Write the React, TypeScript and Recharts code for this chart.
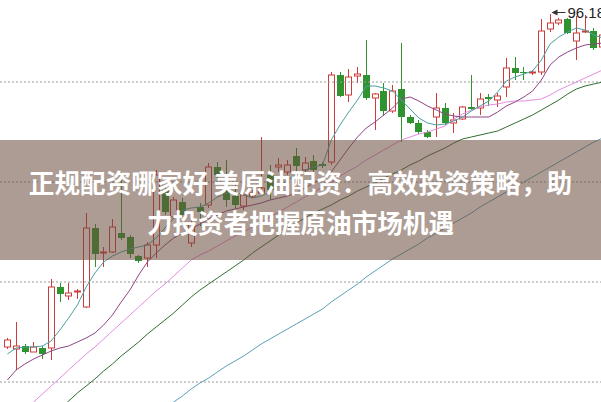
import React from 'react';
import { ComposedChart, Bar, Line, XAxis, YAxis, ReferenceLine } from 'recharts';

// daily candles (price units)
const openPrices = [
  92.85, 92.83, 92.86, 92.80, 92.84, 92.84, 93.45, 93.36, 93.40, 93.25,
  94.04, 93.79, 93.80, 93.99, 93.95, 93.76, 93.74, 93.87, 94.42, 94.15,
  94.30, 93.89, 94.25, 94.27, 94.65, 94.42, 94.36, 94.26, 94.36, 94.39,
  94.57, 94.65, 94.60, 94.76, 94.62, 94.71, 94.68, 94.70, 95.57, 95.37,
  95.56, 95.57, 95.34, 95.41, 95.21, 95.43, 95.15, 95.09, 95.00, 95.15,
  95.24, 95.09, 95.13, 95.25, 95.24, 95.35, 95.32, 95.45, 95.64, 95.60,
  95.59, 95.60, 96.03, 96.09, 96.13, 95.91, 96.00, 96.01, 95.85,
];
const closePrices = [
  92.92, 92.86, 92.80, 92.85, 92.78, 93.45, 93.38, 93.39, 93.41, 94.04,
  93.78, 93.80, 94.05, 93.94, 93.78, 93.71, 93.87, 94.57, 94.20, 94.32,
  94.17, 94.09, 94.20, 94.65, 94.57, 94.32, 94.27, 94.37, 94.39, 94.44,
  94.42, 94.67, 94.67, 94.66, 94.69, 94.62, 94.66, 95.57, 95.36, 95.55,
  95.58, 95.34, 95.38, 95.21, 95.41, 95.15, 95.09, 95.00, 94.95, 95.24,
  95.09, 95.12, 95.25, 95.23, 95.33, 95.33, 95.36, 95.64, 95.59, 95.59,
  95.60, 96.01, 96.09, 96.12, 95.99, 95.99, 96.01, 95.84, 95.97,
];
const highPrices = [
  92.94, 93.10, 92.88, 92.90, 92.86, 93.53, 93.49, 93.49, 93.43, 94.19,
  94.08, 93.85, 94.13, 94.60, 93.97, 93.77, 93.90, 94.62, 94.47, 94.35,
  94.34, 94.14, 94.29, 94.69, 94.70, 94.72, 94.47, 94.41, 94.42, 94.95,
  94.67, 94.74, 94.72, 94.84, 94.75, 94.77, 94.70, 95.60, 95.60, 95.63,
  95.65, 95.92, 95.39, 95.49, 95.47, 95.89, 95.17, 95.12, 95.02, 95.39,
  95.29, 95.19, 95.26, 95.57, 95.39, 95.38, 95.39, 95.74, 95.75, 95.65,
  95.62, 96.13, 96.18, 96.14, 96.14, 96.16, 96.17, 96.04, 96.02,
];
const lowPrices = [
  92.83, 92.62, 92.78, 92.80, 92.73, 92.72, 93.30, 93.32, 93.33, 93.24,
  93.65, 93.65, 93.79, 93.92, 93.74, 93.69, 93.65, 93.74, 94.17, 94.13,
  94.14, 93.85, 94.06, 94.24, 94.52, 94.25, 94.24, 94.22, 94.34, 94.37,
  94.32, 94.60, 94.57, 94.60, 94.59, 94.60, 94.64, 94.67, 95.35, 95.30,
  95.49, 95.32, 95.02, 95.16, 95.19, 94.90, 95.08, 94.98, 94.94, 94.95,
  95.07, 94.99, 95.12, 95.22, 95.17, 95.26, 95.25, 95.35, 95.52, 95.52,
  95.57, 95.57, 96.00, 96.07, 95.98, 95.72, 95.99, 95.82, 95.82,
];

// moving averages
const ma5 = [
  92.78, 92.84, 92.85, 92.85, 92.86, 92.91, 93.02, 93.14, 93.27, 93.45,
  93.59, 93.70, 93.76, 93.80, 93.83, 93.85, 93.87, 93.94, 94.04, 94.14,
  94.22, 94.24, 94.25, 94.29, 94.35, 94.39, 94.40, 94.37, 94.34, 94.36,
  94.40, 94.46, 94.52, 94.57, 94.62, 94.65, 94.67, 94.92, 95.07, 95.20,
  95.32, 95.46, 95.46, 95.44, 95.41, 95.32, 95.23, 95.14, 95.09, 95.07,
  95.08, 95.11, 95.15, 95.21, 95.26, 95.31, 95.40, 95.51, 95.55, 95.58,
  95.61, 95.72, 95.88, 95.95, 96.00, 96.04, 96.02, 95.97, 95.94,
];
const ma10 = [
  92.52, 92.62, 92.68, 92.73, 92.77, 92.81, 92.84, 92.86, 92.90, 92.94,
  92.99, 93.07, 93.17, 93.30, 93.42, 93.57, 93.70, 93.79, 93.87, 93.94,
  93.99, 94.03, 94.08, 94.13, 94.17, 94.21, 94.23, 94.25, 94.27, 94.29,
  94.32, 94.34, 94.36, 94.39, 94.44, 94.49, 94.54, 94.60, 94.72, 94.84,
  94.95, 95.04, 95.10, 95.17, 95.24, 95.33, 95.35, 95.31, 95.26, 95.22,
  95.18, 95.16, 95.15, 95.15, 95.15, 95.15, 95.20, 95.26, 95.30, 95.35,
  95.41, 95.52, 95.67, 95.75, 95.80, 95.84, 95.87, 95.88, 95.89,
];
const ma20 = [
  92.07, 92.14, 92.22, 92.30, 92.38, 92.46, 92.54, 92.62, 92.70, 92.78,
  92.85, 92.93, 93.01, 93.09, 93.17, 93.25, 93.33, 93.41, 93.48, 93.56,
  93.64, 93.72, 93.77, 93.81, 93.86, 93.91, 93.96, 94.00, 94.05, 94.10,
  94.15, 94.20, 94.25, 94.30, 94.35, 94.40, 94.45, 94.50, 94.56, 94.61,
  94.66, 94.72, 94.77, 94.82, 94.87, 94.92, 94.95, 94.98, 95.00, 95.03,
  95.06, 95.13, 95.18, 95.22, 95.25, 95.27, 95.28, 95.30, 95.31, 95.31,
  95.32, 95.33, 95.37, 95.42, 95.46, 95.50, 95.54, 95.58, 95.62,
];
const ma60 = [
  91.78, 91.85, 91.93, 92.00, 92.08, 92.16, 92.23, 92.31, 92.39, 92.46,
  92.53, 92.61, 92.68, 92.76, 92.83, 92.90, 92.98, 93.05, 93.12, 93.19,
  93.27, 93.35, 93.42, 93.48, 93.54, 93.60, 93.66, 93.72, 93.79, 93.85,
  93.91, 93.97, 94.03, 94.09, 94.14, 94.19, 94.23, 94.27, 94.32, 94.36,
  94.41, 94.45, 94.49, 94.54, 94.58, 94.62, 94.67, 94.71, 94.76, 94.80,
  94.84, 94.89, 94.93, 94.95, 94.97, 94.99, 95.01, 95.05, 95.09, 95.13,
  95.17, 95.22, 95.27, 95.32, 95.38, 95.43, 95.46, 95.48, 95.50,
];
const ma120 = [
  null, null, null, null, null, null, null, null, null, null,
  null, null, null, null, 91.99, 92.05, 92.12, 92.18, 92.24, 92.30,
  92.36, 92.43, 92.49, 92.54, 92.60, 92.66, 92.71, 92.76, 92.82, 92.88,
  92.93, 92.98, 93.03, 93.08, 93.13, 93.18, 93.23, 93.30, 93.36, 93.42,
  93.48, 93.55, 93.61, 93.67, 93.73, 93.78, 93.83, 93.88, 93.94, 93.99,
  94.04, 94.09, 94.14, 94.19, 94.25, 94.30, 94.35, 94.40, 94.45, 94.50,
  94.55, 94.60, 94.65, 94.70, 94.75, 94.80, 94.85, 94.90, 94.94,
];

const gridLevels = [92.5, 93.5, 94.5, 95.5];
const titleLines = ['正规配资哪家好 美原油配资：高效投资策略，助', '力投资者把握原油市场机遇'];

const RED = '#cf3b3b';
const GREEN = '#2f9430';

const data = openPrices.map((o, i) => ({
  k: i,
  open: o,
  close: closePrices[i],
  high: highPrices[i],
  low: lowPrices[i],
  range: [lowPrices[i], highPrices[i]],
  ma5: ma5[i],
  ma10: ma10[i],
  ma20: ma20[i],
  ma60: ma60[i],
  ma120: ma120[i],
}));

const peakIndex = highPrices.indexOf(Math.max(...highPrices));

function Candle(props: any) {
  const { x, y, width, height, payload } = props;
  if (!payload) return null;
  const top = Math.min(y, y + height);
  const bottom = Math.max(y, y + height);
  const span = payload.high - payload.low || 1;
  const toY = (v: number) => top + ((payload.high - v) / span) * (bottom - top);
  const cx = Math.round(x + width / 2) + 0.5;
  const up = payload.close >= payload.open;
  const color = up ? RED : GREEN;
  const bTop = toY(Math.max(payload.open, payload.close));
  let bBot = toY(Math.min(payload.open, payload.close));
  if (bBot - bTop < 1) bBot = bTop + 1;
  const half = 3;

  let peak = null;
  if (payload.k === peakIndex) {
    const py = Math.round(top) - 1.5;
    peak = (
      <g>
        <path d={`M${cx + 1},${py} l6,-3 v6 z`} fill="#333" />
        <line x1={cx + 6} y1={py} x2={cx + 15} y2={py} stroke="#333" strokeWidth={1} />
        <text x={cx + 17} y={py + 5} fontSize={15} fill="#222" fontFamily="'Liberation Sans', Arial, sans-serif">
          {payload.high.toFixed(2)}
        </text>
      </g>
    );
  }

  if (up) {
    return (
      <g>
        <line x1={cx} y1={top} x2={cx} y2={bTop} stroke={color} strokeWidth={1} />
        <line x1={cx} y1={bBot} x2={cx} y2={bottom} stroke={color} strokeWidth={1} />
        <rect x={cx - half} y={bTop} width={half * 2} height={bBot - bTop} fill="#fff" stroke={color} strokeWidth={1} />
        {peak}
      </g>
    );
  }
  return (
    <g>
      <line x1={cx} y1={top} x2={cx} y2={bottom} stroke={color} strokeWidth={1} />
      <rect x={cx - half - 0.5} y={bTop} width={half * 2 + 1} height={bBot - bTop} fill={color} />
      {peak}
    </g>
  );
}

export default function App() {
  return (
    <div style={{ position: 'fixed', left: 0, top: 0, width: 601, height: 402, overflow: 'hidden', background: '#fff' }}>
      <ComposedChart width={607} height={402} data={data} margin={{ top: 0, right: 0, bottom: 0, left: 0 }}>
        <XAxis dataKey="k" hide padding={{ left: 3, right: 0 }} />
        <YAxis hide type="number" domain={[92.3, 96.32]} allowDataOverflow />
        {gridLevels.map((g) => (
          <ReferenceLine key={g} y={g} stroke="#9a9a9a" strokeDasharray="2 2" />
        ))}
        <Bar dataKey="range" barSize={6} shape={<Candle />} isAnimationActive={false} />
        <Line dataKey="ma120" stroke="#5b9fb4" strokeWidth={1} dot={false} activeDot={false} isAnimationActive={false} />
        <Line dataKey="ma60" stroke="#2f6e2f" strokeWidth={1} dot={false} activeDot={false} isAnimationActive={false} />
        <Line dataKey="ma20" stroke="#e38ce0" strokeWidth={1} dot={false} activeDot={false} isAnimationActive={false} />
        <Line dataKey="ma10" stroke="#8e4585" strokeWidth={1} dot={false} activeDot={false} isAnimationActive={false} />
        <Line dataKey="ma5" stroke="#4aa0a0" strokeWidth={1} dot={false} activeDot={false} isAnimationActive={false} />
      </ComposedChart>
      <div
        style={{
          position: 'absolute',
          left: 0,
          top: 140,
          width: 601,
          height: 120,
          background: 'rgba(105,75,58,0.55)',
          color: '#fff',
          fontFamily: "'Noto Sans CJK SC', sans-serif",
          fontWeight: 700,
          fontSize: 25.6,
          lineHeight: '40px',
          textAlign: 'center',
          paddingTop: 22,
          boxSizing: 'border-box',
        }}
      >
        {titleLines.map((t) => (
          <div key={t} style={{ whiteSpace: 'nowrap' }}>{t}</div>
        ))}
      </div>
    </div>
  );
}
